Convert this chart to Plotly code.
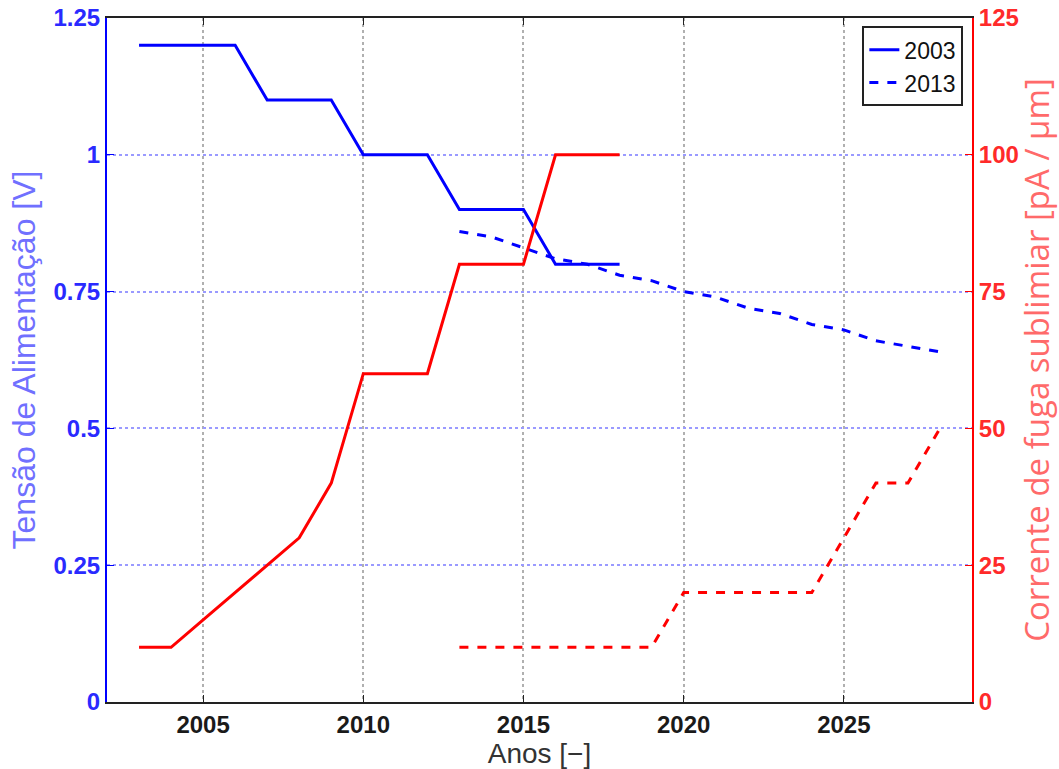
import plotly.graph_objects as go

# Supply voltage roadmap (left axis, V)
years_2003 = list(range(2003, 2019))
vdd_2003 = [1.2, 1.2, 1.2, 1.2, 1.1, 1.1, 1.1, 1.0, 1.0, 1.0, 0.9, 0.9, 0.9, 0.8, 0.8, 0.8]

years_2013 = list(range(2013, 2029))
vdd_2013 = [0.86, 0.85, 0.83, 0.81, 0.80, 0.78, 0.77, 0.75, 0.74, 0.72, 0.71, 0.69, 0.68, 0.66, 0.65, 0.64]

# Subthreshold leakage current (right axis, pA/um)
ileak_2003 = [10, 10, 15, 20, 25, 30, 40, 60, 60, 60, 80, 80, 80, 100, 100, 100]
ileak_2013 = [10, 10, 10, 10, 10, 10, 10, 20, 20, 20, 20, 20, 30, 40, 40, 50]

x_ticks = [2005, 2010, 2015, 2020, 2025]
y_ticks = [0, 0.25, 0.5, 0.75, 1, 1.25]
y_tick_text = ["0", "0.25", "0.5", "0.75", "1", "1.25"]
y2_ticks = [0, 25, 50, 75, 100, 125]

BLUE = "#0000ff"
RED = "#ff0000"
LW = 3
SANS = "Liberation Sans, Arial, sans-serif"

fig = go.Figure()
fig.add_trace(go.Scatter(x=years_2003, y=vdd_2003, mode="lines", name="2003",
                         line=dict(color=BLUE, width=LW)))
fig.add_trace(go.Scatter(x=years_2013, y=vdd_2013, mode="lines", name="2013",
                         line=dict(color=BLUE, width=LW, dash="dash")))
fig.add_trace(go.Scatter(x=years_2003, y=ileak_2003, mode="lines", yaxis="y2",
                         showlegend=False, line=dict(color=RED, width=LW)))
fig.add_trace(go.Scatter(x=years_2013, y=ileak_2013, mode="lines", yaxis="y2",
                         showlegend=False, line=dict(color=RED, width=LW, dash="dash")))

TICK = dict(family=SANS, size=24, weight="bold")

fig.update_layout(
    width=1059, height=769,
    margin=dict(l=107, r=87, t=18, b=67),
    paper_bgcolor="white", plot_bgcolor="white",
    xaxis=dict(
        range=[2002, 2029], tickvals=x_ticks, ticks="inside", ticklen=7,
        tickcolor="#222222", showline=True, linecolor="#222222", linewidth=2,
        mirror="ticks", showgrid=True, gridcolor="#b0b0b0", griddash="dot",
        gridwidth=1.5, zeroline=False, automargin=False,
        tickfont=dict(TICK, color="#1a1a1a"),
        title=dict(text="Anos [−]", standoff=0,
                   font=dict(family=SANS, size=28, color="#333333")),
    ),
    yaxis=dict(
        range=[0, 1.25], tickvals=y_ticks, ticktext=y_tick_text, ticks="inside",
        ticklen=7, tickcolor=BLUE, showline=True, linecolor=BLUE, linewidth=2,
        showgrid=True, gridcolor="#9a9aff", griddash="dot", gridwidth=1.5,
        zeroline=False, automargin=False,
        tickfont=dict(TICK, color="#2a2aff"),
        title=dict(text="Tensão de Alimentação [V]", standoff=8,
                   font=dict(family=SANS, size=32, color="#7070ff")),
    ),
    yaxis2=dict(
        range=[0, 125], tickvals=y2_ticks, overlaying="y", side="right",
        ticks="inside", ticklen=7, tickcolor=RED, showline=True, linecolor=RED,
        linewidth=2, showgrid=False, zeroline=False, automargin=False,
        tickfont=dict(TICK, color="#ff2a2a"),
        title=dict(text="Corrente de fuga sublimiar [pA / μm]", standoff=0,
                   font=dict(family="Open Sans, sans-serif", size=33, color="#ff6a6a")),
    ),
    legend=dict(
        x=0.99, y=0.988, xanchor="right", yanchor="top",
        bgcolor="white", bordercolor="#222222", borderwidth=2,
        font=dict(family=SANS, size=23, color="#111111"),
        tracegroupgap=0,
    ),
)

fig.write_html("out.html")
